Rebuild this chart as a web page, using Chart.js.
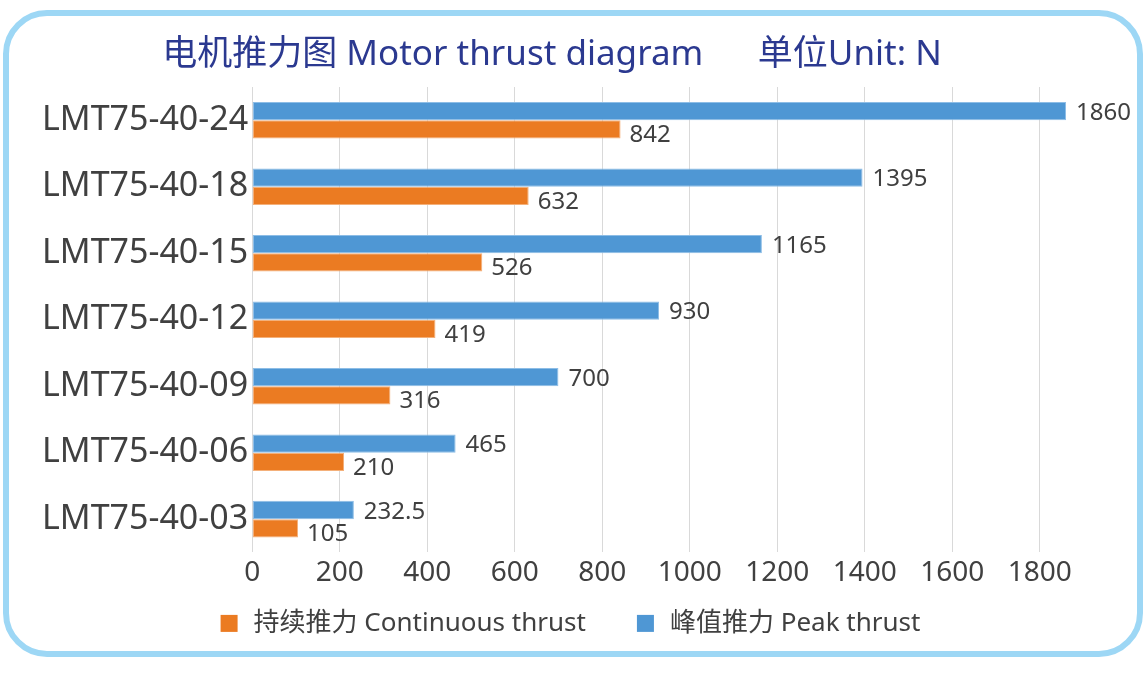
<!DOCTYPE html>
<html><head><meta charset="utf-8">
<script src="https://cdn.jsdelivr.net/npm/chart.js@4.4.0/dist/chart.umd.min.js"></script>
<style>
html,body{margin:0;padding:0;background:#fff;}
#wrap{position:relative;width:1147px;height:676px;overflow:hidden;}
#frame{position:absolute;left:3px;top:10px;width:1128px;height:635px;border:6px solid #9dd7f5;border-radius:44px;}
#c{position:absolute;left:0;top:0;}
</style></head><body>
<div id="wrap"><div id="frame"></div><canvas id="c" width="1147" height="676" style="width:1147px;height:676px"></canvas></div>
<script>
const categories = ['LMT75-40-24','LMT75-40-18','LMT75-40-15','LMT75-40-12','LMT75-40-09','LMT75-40-06','LMT75-40-03'];
const peakThrust = [1860, 1395, 1165, 930, 700, 465, 232.5];
const continuousThrust = [842, 632, 526, 419, 316, 210, 105];
const xTicks = [0, 200, 400, 600, 800, 1000, 1200, 1400, 1600, 1800];
const seriesNames = ['峰值推力 Peak thrust', '持续推力 Continuous thrust'];
const titleText = '电机推力图 Motor thrust diagram      单位Unit: N';

const FONT = '"Noto Sans", "Noto Sans CJK SC", sans-serif';
const TXT = '#404040';
const COLORS = ['#4f97d4', '#eb7b22'];

const valueLabels = {
  id: 'valueLabels',
  afterDatasetsDraw(chart) {
    const ctx = chart.ctx;
    ctx.save();
    ctx.font = '24px ' + FONT;
    ctx.fillStyle = TXT;
    ctx.textAlign = 'left';
    ctx.textBaseline = 'middle';
    chart.data.datasets.forEach((ds, di) => {
      const meta = chart.getDatasetMeta(di);
      meta.data.forEach((el, i) => {
        const gap = di === 0 ? 10 : 9;
        const dy = di === 0 ? 2 : 6;
        ctx.fillText(String(ds.data[i]), el.x + gap, el.y + dy);
      });
    });
    ctx.restore();
  }
};

// legend drawn below the axis: continuous first, then peak
const bottomLegend = {
  id: 'bottomLegend',
  afterDraw(chart) {
    const ctx = chart.ctx;
    ctx.save();
    ctx.font = '26px ' + FONT;
    ctx.textBaseline = 'middle';
    ctx.textAlign = 'left';
    const order = [1, 0];
    const box = 17, boxGap = 16, itemGap = 51;
    const widths = order.map(di => box + boxGap + ctx.measureText(chart.data.datasets[di].label).width);
    const total = widths.reduce((a, b) => a + b, 0) + itemGap * (order.length - 1);
    const cx = chart.width / 2 - 3;
    const cy = chart.chartArea.bottom + 71;
    let x = cx - total / 2;
    order.forEach((di, k) => {
      ctx.fillStyle = COLORS[di];
      ctx.fillRect(x, cy - box / 2, box, box);
      ctx.fillStyle = TXT;
      ctx.fillText(chart.data.datasets[di].label, x + box + boxGap, cy);
      x += widths[k] + itemGap;
    });
    ctx.restore();
  }
};

new Chart(document.getElementById('c'), {
  type: 'bar',
  data: {
    labels: categories,
    datasets: [
      { label: seriesNames[0], data: peakThrust, backgroundColor: COLORS[0], borderColor: '#8dbde6', borderWidth: 1, borderSkipped: false },
      { label: seriesNames[1], data: continuousThrust, backgroundColor: COLORS[1], borderColor: '#f4b07a', borderWidth: 1, borderSkipped: false }
    ]
  },
  options: {
    indexAxis: 'y',
    responsive: false,
    animation: false,
    devicePixelRatio: 1,
    datasets: { bar: { barPercentage: 1, categoryPercentage: 0.55 } },
    layout: { padding: { left: 38, right: 81, top: 34, bottom: 82 } },
    plugins: {
      title: { display: true, text: titleText, color: '#2b3990', font: { family: FONT, size: 35, weight: 'normal' }, padding: { top: 0, bottom: 11 } },
      legend: { display: false },
      tooltip: { enabled: false }
    },
    scales: {
      x: {
        min: 0, max: 1860,
        afterBuildTicks: (s) => { s.ticks = xTicks.map(v => ({ value: v })); },
        ticks: { color: TXT, font: { family: FONT, size: 28 }, padding: 4, maxRotation: 0, autoSkip: false, callback: (v) => String(v) },
        grid: { color: '#d9d9d9', drawTicks: false },
        border: { display: false }
      },
      y: {
        ticks: { color: TXT, font: { family: FONT, size: 34 }, padding: 4 },
        grid: { display: false, drawTicks: false },
        border: { display: false }
      }
    }
  },
  plugins: [valueLabels, bottomLegend]
});
</script>
</body></html>
